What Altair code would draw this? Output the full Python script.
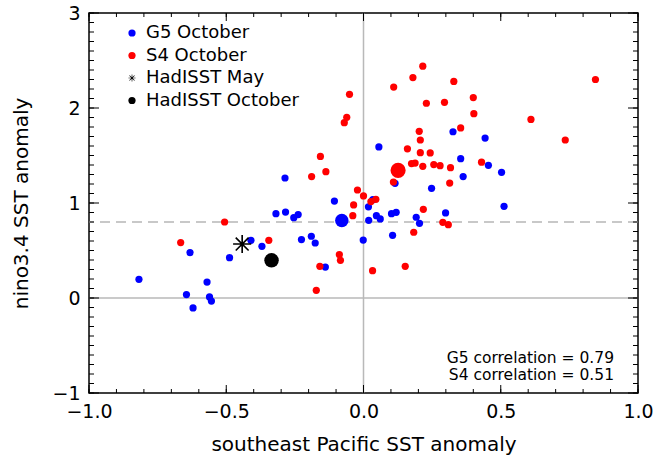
import altair as alt
import pandas as pd

# ---------------- data ----------------
g5_x = [-0.286, -0.106, 0.326, 0.443, 0.056, 0.354, 0.455, 0.503, 0.363, 0.248,
        0.115, 0.018, 0.512, 0.299, 0.102, 0.119, 0.047, 0.061, 0.019, 0.192,
        0.204, 0.106, -0.001, -0.319, -0.284, -0.254, -0.238, -0.632, -0.488, -0.410,
        -0.370, -0.226, -0.190, -0.176, -0.139, -0.818, -0.570, -0.645, -0.561, -0.554,
        -0.621, 0.034]
g5_y = [1.263, 1.020, 1.750, 1.684, 1.590, 1.467, 1.397, 1.323, 1.278, 1.155,
        1.207, 0.960, 0.965, 0.895, 0.888, 0.902, 0.867, 0.832, 0.818, 0.850,
        0.786, 0.660, 0.610, 0.888, 0.905, 0.846, 0.878, 0.478, 0.425, 0.607,
        0.544, 0.615, 0.650, 0.579, 0.326, 0.197, 0.168, 0.036, 0.011, -0.032,
        -0.105, 1.035]

s4_x = [-0.051, -0.061, -0.070, -0.157, -0.189, -0.137, -0.022, -0.036, 0.216, 0.180,
        0.110, 0.329, 0.845, 0.400, 0.229, 0.295, 0.402, 0.610, 0.354, 0.203,
        0.207, 0.735, 0.160, 0.207, 0.243, 0.175, 0.188, 0.216, 0.256, 0.279,
        0.317, 0.430, 0.314, 0.109, 0.000, 0.027, 0.045, 0.218, 0.289, 0.309,
        0.183, 0.152, 0.033, -0.039, -0.506, -0.666, -0.345, -0.088, -0.084, -0.159,
        -0.172]
s4_y = [2.144, 1.902, 1.846, 1.490, 1.278, 1.330, 1.137, 0.980, 2.440, 2.320,
        2.220, 2.280, 2.300, 2.110, 2.050, 2.060, 1.940, 1.880, 1.790, 1.755,
        1.663, 1.663, 1.570, 1.530, 1.527, 1.415, 1.420, 1.386, 1.404, 1.393,
        1.372, 1.430, 1.210, 1.221, 1.074, 1.015, 1.039, 0.934, 0.797, 0.772,
        0.692, 0.334, 0.288, 0.867, 0.800, 0.583, 0.607, 0.457, 0.397, 0.334,
        0.081]

g5_mean = [-0.079, 0.815]
s4_mean = [0.126, 1.344]
hadisst_may = [-0.442, 0.568]
hadisst_oct = [-0.335, 0.397]

series_names = ["G5 October", "S4 October", "HadISST May", "HadISST October"]
series_colors = ["#0000ff", "#ff0000", "#000000", "#000000"]

corr_models = ["G5", "S4"]
corr_values = [0.79, 0.51]

x_major = [-1.0, -0.5, 0.0, 0.5, 1.0]
x_minor = [-1.0, -0.9, -0.8, -0.7, -0.6, -0.5, -0.4, -0.3, -0.2, -0.1, 0.0,
           0.1, 0.2, 0.3, 0.4, 0.5, 0.6, 0.7, 0.8, 0.9, 1.0]
y_major = [-1, 0, 1, 2, 3]
y_minor = [round(-1 + 0.1 * i, 1) for i in range(41)]

zero_x = [0.0]
zero_y = [0.0]
thresh_y = [0.8]

# ---------------- build tables ----------------
roles = ["member", "g5mean", "s4mean", "obsmay", "obsoct"]
role_sizes = [52, 180, 230, 330, 210]

rows = []
for x, y in zip(g5_x, g5_y):
    rows.append({"x": x, "y": y, "series": "G5 October", "role": "member"})
for x, y in zip(s4_x, s4_y):
    rows.append({"x": x, "y": y, "series": "S4 October", "role": "member"})
rows.append({"x": g5_mean[0], "y": g5_mean[1], "series": "G5 October", "role": "g5mean"})
rows.append({"x": s4_mean[0], "y": s4_mean[1], "series": "S4 October", "role": "s4mean"})
rows.append({"x": hadisst_may[0], "y": hadisst_may[1], "series": "HadISST May", "role": "obsmay"})
rows.append({"x": hadisst_oct[0], "y": hadisst_oct[1], "series": "HadISST October", "role": "obsoct"})
pts = pd.DataFrame(rows)

STAR = ("M-0.09,-1L0.09,-1L0.09,1L-0.09,1Z"
        "M-1,-0.09L1,-0.09L1,0.09L-1,0.09Z"
        "M-0.644,-0.771L0.771,0.644L0.644,0.771L-0.771,-0.644Z"
        "M-0.771,0.644L0.644,-0.771L0.771,-0.644L-0.644,0.771Z")

W, H = 549, 380
FONT = "DejaVu Sans"

xscale = alt.Scale(domain=[-1, 1], nice=False, zero=False)
yscale = alt.Scale(domain=[-1, 3], nice=False, zero=False)

xaxis = alt.Axis(values=x_major, format=".1f", title="southeast Pacific SST anomaly",
                 ticks=False, grid=False, domain=False, labelPadding=9, titlePadding=13,
                 labelFlush=False)
yaxis = alt.Axis(values=y_major, format="d", title="nino3.4 SST anomaly",
                 ticks=False, grid=False, domain=False, labelPadding=9, titlePadding=20,
                 labelFlush=False)

legend = alt.Legend(title=None, orient="none", legendX=34, legendY=11,
                    labelFont=FONT, labelFontSize=18, labelColor="black",
                    symbolSize=52, labelOffset=5, rowPadding=4.5, padding=0,
                    symbolStrokeWidth=0)

points = alt.Chart(pts).mark_point(filled=True, opacity=1, strokeWidth=0).encode(
    x=alt.X("x:Q", scale=xscale, axis=xaxis),
    y=alt.Y("y:Q", scale=yscale, axis=yaxis),
    color=alt.Color("series:N", scale=alt.Scale(domain=series_names, range=series_colors),
                    legend=legend),
    shape=alt.Shape("series:N",
                    scale=alt.Scale(domain=series_names,
                                    range=["circle", "circle", STAR, "circle"]),
                    legend=legend),
    size=alt.Size("role:N", scale=alt.Scale(type="ordinal", domain=roles, range=role_sizes),
                  legend=None),
)

vline = alt.Chart(pd.DataFrame({"x": zero_x})).mark_rule(color="#b9b9b9", strokeWidth=1.5).encode(
    x=alt.X("x:Q", scale=xscale, axis=xaxis))
hline = alt.Chart(pd.DataFrame({"y": zero_y})).mark_rule(color="#b9b9b9", strokeWidth=1.5).encode(
    y=alt.Y("y:Q", scale=yscale, axis=yaxis))
dline = alt.Chart(pd.DataFrame({"y": thresh_y})).mark_rule(
    color="#c8c8c8", strokeWidth=2, strokeDash=[10, 6]).encode(
    y=alt.Y("y:Q", scale=yscale, axis=yaxis))


def xticks(vals, length):
    df = pd.DataFrame({"x": vals})
    top = alt.Chart(df).mark_rule(color="black", strokeWidth=1).encode(
        x=alt.X("x:Q", scale=xscale, axis=xaxis), y=alt.value(0), y2=alt.value(length))
    bot = alt.Chart(df).mark_rule(color="black", strokeWidth=1).encode(
        x=alt.X("x:Q", scale=xscale, axis=xaxis), y=alt.value(H), y2=alt.value(H - length))
    return [top, bot]


def yticks(vals, length):
    df = pd.DataFrame({"y": vals})
    left = alt.Chart(df).mark_rule(color="black", strokeWidth=1).encode(
        y=alt.Y("y:Q", scale=yscale, axis=yaxis), x=alt.value(0), x2=alt.value(length))
    right = alt.Chart(df).mark_rule(color="black", strokeWidth=1).encode(
        y=alt.Y("y:Q", scale=yscale, axis=yaxis), x=alt.value(W), x2=alt.value(W - length))
    return [left, right]


tick_layers = xticks(x_minor, 4) + xticks(x_major, 8) + yticks(y_minor, 5) + yticks(y_major, 10)

corr_text = "\n".join(f"{m} correlation = {v:.2f}" for m, v in zip(corr_models, corr_values))
corr = alt.Chart(pd.DataFrame({"t": [corr_text]})).mark_text(
    align="right", baseline="middle", lineBreak="\n", lineHeight=16.5,
    font=FONT, fontSize=15.5, color="black").encode(
    x=alt.value(W - 24), y=alt.value(H - 35), text="t:N")

chart = alt.layer(vline, hline, dline, *tick_layers, points, corr).properties(
    width=W, height=H,
    padding={"left": 89, "top": 13, "right": 17, "bottom": 64},
    autosize=alt.AutoSizeParams(type="none"),
).configure_view(
    stroke="black", strokeWidth=1.5
).configure_axis(
    labelFont=FONT, labelFontSize=19, labelColor="black",
    titleFont=FONT, titleFontSize=20, titleFontWeight="normal", titleColor="black",
)

chart.save("out.html", embed_options={"renderer": "svg", "actions": False})
